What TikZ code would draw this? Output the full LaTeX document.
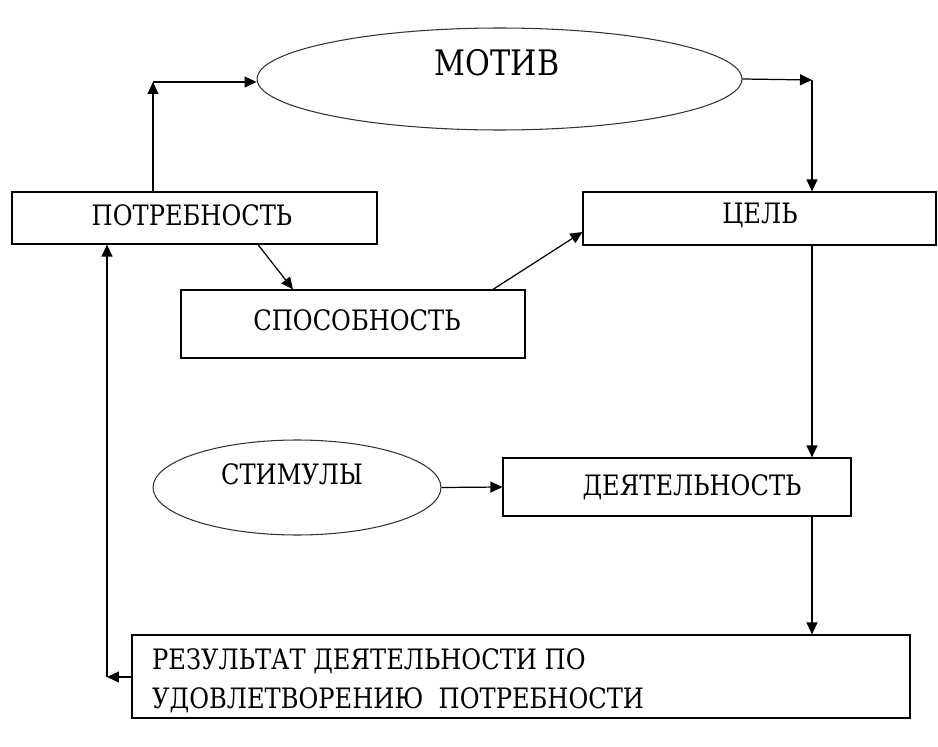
\documentclass[tikz,border=0pt]{standalone}
\usepackage{fontspec}
\newfontfamily\timesrm{DejaVu Serif}[FakeStretch=0.86]
\usetikzlibrary{arrows.meta,shapes.geometric}
\tikzset{
  box/.style={draw, rectangle, line width=0.7pt, inner sep=0pt},
  oval/.style={draw, ellipse, line width=0.6pt, draw=black!80, inner sep=0pt},
  lbl/.style={font=\timesrm\fontsize{16}{20}\selectfont},
  arr/.style={line width=0.7pt, -{Triangle[length=2.4mm,width=2.2mm]}}
}
\begin{document}
\begin{tikzpicture}[x=0.02cm,y=-0.02cm]
 	\useasboundingbox[fill=white] (0,0) rectangle (938,747);
 	% nodes
 	\node[oval, minimum width=9.7cm, minimum height=2.04cm] (motiv) at (499.5,79) {};
 	\node[font=\timesrm\fontsize{20}{24}\selectfont] (motivtxt) at (497,63) {МОТИВ};
 	\node[box, minimum width=7.3cm, minimum height=1.04cm] (potr) at (194.5,218) {};
 	\node[lbl] at (192,215) {ПОТРЕБНОСТЬ};
 	\node[box, minimum width=7.06cm, minimum height=1.06cm] (cel) at (759.5,218.5) {};
 	\node[lbl] at (760,215) {ЦЕЛЬ};
 	\node[box, minimum width=6.88cm, minimum height=1.36cm] (spos) at (353,324) {};
 	\node[lbl] at (357,320) {СПОСОБНОСТЬ};
 	\node[oval, minimum width=5.76cm, minimum height=1.9cm] (stim) at (297,487.5) {};
 	\node[lbl] at (292,474) {СТИМУЛЫ};
 	\node[box, minimum width=6.96cm, minimum height=1.16cm] (deyat) at (677,487) {};
 	\node[lbl] at (692,487) {ДЕЯТЕЛЬНОСТЬ};
 	\node[box, minimum width=15.56cm, minimum height=1.66cm] (rez) at (521,676.5) {};
 	\node[lbl, anchor=west, align=left] at (146,681)
 	  {РЕЗУЛЬТАТ ДЕЯТЕЛЬНОСТИ ПО\\[2pt]УДОВЛЕТВОРЕНИЮ\ \ ПОТРЕБНОСТИ};
 	% corners
 	\coordinate (c1) at (153,82);
 	\coordinate (c2) at (812,80);
 	\coordinate (c3) at (107,677);
 	% arrows
 	\draw[arr] (potr.north -| c1) -- (c1);
 	\draw[arr] (c1) -- (motiv.west |- c1);
 	\draw[arr] (motiv.east) -- (c2);
 	\draw[arr] (c2) -- (cel.north -| c2);
 	\draw[arr] (potr.south -| 258,0) -- (spos.north -| 293,0);
 	\draw[arr] (spos.north -| 493,0) -- (cel.west |- 0,232);
 	\draw[arr] (cel.south -| c2) -- (deyat.north -| c2);
 	\draw[arr] (stim.east) -- (deyat.west);
 	\draw[arr] (deyat.south -| c2) -- (rez.north -| c2);
 	\draw[arr] (rez.west |- c3) -- (c3);
 	\draw[arr] (c3) -- (potr.south -| c3);
\end{tikzpicture}
\end{document}
